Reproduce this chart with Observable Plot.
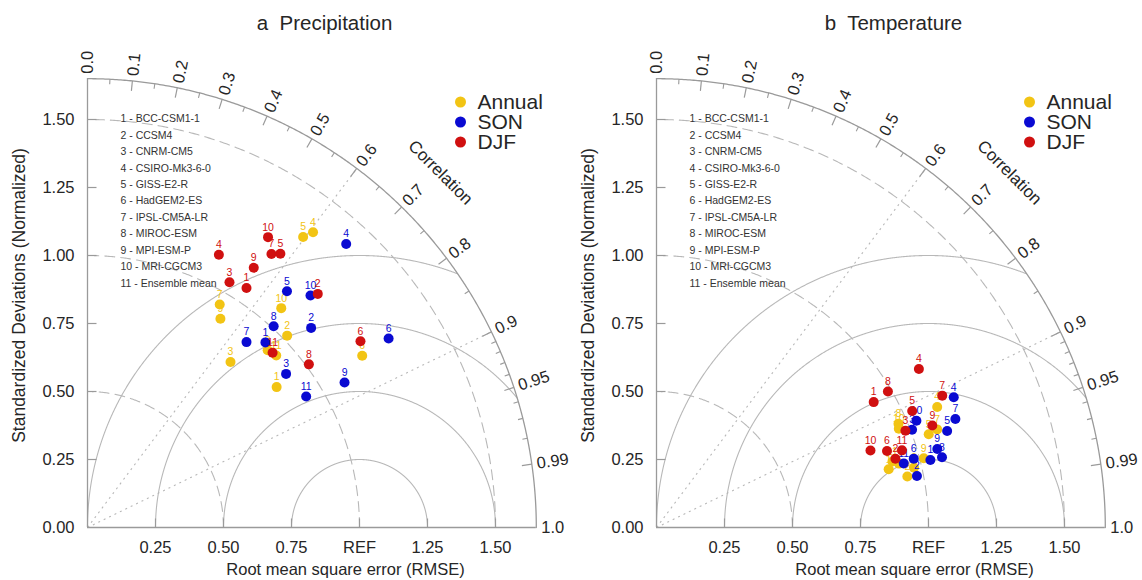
<!DOCTYPE html>
<html><head><meta charset="utf-8">
<script src="https://cdn.jsdelivr.net/npm/d3@7"></script>
<script src="https://cdn.jsdelivr.net/npm/@observablehq/plot@0.6"></script>
<style>
body{margin:0;background:#fff;}
#wrap{display:flex;width:1142px;height:580px;overflow:hidden;}
#wrap svg{overflow:visible;display:block;}
</style></head><body><div id="wrap"></div>
<script>
// ---------- labels ----------
const models = ["BCC-CSM1-1","CCSM4","CNRM-CM5","CSIRO-Mk3-6-0","GISS-E2-R","HadGEM2-ES","IPSL-CM5A-LR","MIROC-ESM","MPI-ESM-P","MRI-CGCM3","Ensemble mean"];
const seasons = ["Annual","SON","DJF"];
const seasonColors = ["#f2c414","#0a0ad2","#d01010"];
const corrTicks = [0,0.1,0.2,0.3,0.4,0.5,0.6,0.7,0.8,0.9,0.95,0.99,1.0];
const corrTickLabels = ["0.0","0.1","0.2","0.3","0.4","0.5","0.6","0.7","0.8","0.9","0.95","0.99","1.0"];
const corrMinorTicks = [0.05,0.15,0.25,0.35,0.45,0.55,0.65,0.75,0.85,0.91,0.92,0.93,0.94,0.96,0.97,0.98];
const stdTicks = [0,0.25,0.5,0.75,1.0,1.25,1.5];
const stdTickLabels = ["0.00","0.25","0.50","0.75","1.00","1.25","1.50"];
const rmseTicks = [0.25,0.5,0.75,1.0,1.25,1.5];
const rmseTickLabels = ["0.25","0.50","0.75","REF","1.25","1.50"];
const rmseCircles = [0.25,0.5,0.75,1.0];
const stdCircles = [0.5,1.0,1.5];
const corrGuides = [0.6,0.9];

// ---------- a Precipitation (normalized std, correlation), models 1..11 ----------
const prAnnualStd  = [0.866,1.018,0.804,1.366,1.330,1.191,0.953,0.929,0.910,1.076,0.939];
const prAnnualCorr = [0.803,0.721,0.654,0.607,0.596,0.848,0.510,0.713,0.537,0.662,0.739];
const prSonStd     = [0.944,1.102,0.923,1.411,1.137,1.307,0.898,1.008,1.085,1.183,0.937];
const prSonCorr    = [0.693,0.746,0.791,0.674,0.645,0.847,0.651,0.679,0.871,0.693,0.858];
const prDjfStd     = [1.057,1.206,1.042,1.113,1.231,1.215,1.212,1.011,1.134,1.257,0.936];
const prDjfCorr    = [0.553,0.702,0.501,0.434,0.576,0.826,0.558,0.805,0.539,0.528,0.727];

// ---------- b Temperature ----------
const taAnnualStd  = [0.880,0.941,0.922,1.123,1.058,0.972,1.093,0.968,1.015,0.962,0.901];
const taAnnualCorr = [0.970,0.980,0.967,0.919,0.946,0.974,0.944,0.919,0.968,0.926,0.963];
const taSonStd     = [1.037,0.976,1.006,1.193,1.126,0.979,1.169,1.081,1.072,1.033,0.939];
const taSonCorr    = [0.971,0.981,0.934,0.916,0.949,0.966,0.940,0.971,0.963,0.925,0.968];
const taDjfStd     = [0.922,0.914,0.982,1.127,1.033,0.893,1.157,0.987,1.081,0.836,0.946];
const taDjfCorr    = [0.866,0.961,0.932,0.856,0.910,0.949,0.908,0.862,0.938,0.941,0.954];

// ---------- layout ----------
const U = 272, OX = 87, OY = 527, R = 1.65;
const ux = px => px / U;            // pixel offset from origin -> std units
const uy = py => (OY - py) / U;     // absolute pixel row -> std units
const FONT = "'Liberation Sans', Arial, Helvetica, sans-serif";
const GRID = "#b8b8b8", AXIS = "#9a9a9a", TXT = "#262626";

function polar(r, c) { return {x: r * c, y: r * Math.sqrt(Math.max(0, 1 - c * c))}; }

function panel(title, width, series) {
  const rows = [];
  series.forEach((s, si) => s.std.forEach((v, i) => {
    const p = polar(v, s.corr[i]);
    rows.push({season: seasons[si], id: i + 1, x: p.x, y: p.y});
  }));

  const rmseArcs = [];
  for (const r of rmseCircles) for (let k = 0; k <= 1440; k++) {
    const f = Math.PI * k / 1440, x = 1 + r * Math.cos(f), y = r * Math.sin(f);
    if (x * x + y * y <= R * R + 1e-9) rmseArcs.push({r, x, y});
  }
  const stdArcs = [];
  for (const r of stdCircles) for (let k = 0; k <= 360; k++) {
    const t = Math.PI / 2 * k / 360; stdArcs.push({r, x: r * Math.cos(t), y: r * Math.sin(t)});
  }
  const outer = d3.range(0, 361).map(k => { const t = Math.PI / 2 * k / 360; return {x: R * Math.cos(t), y: R * Math.sin(t)}; });

  const lab = R + 5 / U;
  const majorLen = 10 / U, minorLen = 5 / U;
  const corrMajor = corrTicks.filter(c => c > 0 && c < 1);

  const marks = [
    Plot.line(rmseArcs, {x: "x", y: "y", z: "r", stroke: GRID, strokeWidth: 1.1}),
    Plot.line(stdArcs, {x: "x", y: "y", z: "r", stroke: GRID, strokeWidth: 1.1, strokeDasharray: "10,6"}),
    Plot.link(corrGuides, {x1: 0, y1: 0, x2: c => polar(R, c).x, y2: c => polar(R, c).y, stroke: GRID, strokeWidth: 1.1, strokeDasharray: "2,4"}),
    Plot.line(outer, {x: "x", y: "y", stroke: AXIS, strokeWidth: 1.3}),
    Plot.ruleX([0], {y1: 0, y2: R, stroke: AXIS, strokeWidth: 1.3}),
    Plot.ruleY([0], {x1: 0, x2: R, stroke: AXIS, strokeWidth: 1.3}),
    Plot.link(stdTicks.slice(1), {x1: 0, x2: 9 / U, y1: d => d, y2: d => d, stroke: AXIS, strokeWidth: 1.2}),
    Plot.link(rmseTicks, {x1: d => d, x2: d => d, y1: 0, y2: 9 / U, stroke: AXIS, strokeWidth: 1.2}),
    Plot.link(corrMajor, {x1: c => polar(R, c).x, y1: c => polar(R, c).y, x2: c => polar(R - majorLen, c).x, y2: c => polar(R - majorLen, c).y, stroke: AXIS, strokeWidth: 1.2}),
    Plot.link(corrMinorTicks, {x1: c => polar(R, c).x, y1: c => polar(R, c).y, x2: c => polar(R - minorLen, c).x, y2: c => polar(R - minorLen, c).y, stroke: AXIS, strokeWidth: 1.1}),
    // correlation labels
    Plot.text(corrTicks, {x: c => polar(lab, c).x, y: c => polar(lab, c).y, text: (c, i) => corrTickLabels[i],
      rotate: c => -Math.acos(c) * 180 / Math.PI, textAnchor: "start", lineAnchor: "middle", fontSize: 16.5, fill: TXT}),
    Plot.text(["Correlation"], {x: ux(353), y: uy(172), rotate: 45, textAnchor: "middle", fontSize: 17, fill: TXT}),
    // y axis labels
    Plot.text(stdTicks, {x: ux(-13), y: d => d, text: (d, i) => stdTickLabels[i], textAnchor: "end", fontSize: 16.5, fill: TXT}),
    Plot.text(["Standardized Deviations (Normalized)"], {x: ux(-68), y: uy(295), rotate: -90, textAnchor: "middle", fontSize: 17.5, fill: TXT}),
    // x axis labels
    Plot.text(rmseTicks, {x: d => d, y: uy(547), text: (d, i) => rmseTickLabels[i], textAnchor: "middle", fontSize: 16.5, fill: TXT}),
    Plot.text(["Root mean square error (RMSE)"], {x: ux(258), y: uy(569), textAnchor: "middle", fontSize: 16.5, fill: TXT}),
    // title
    Plot.text([title], {x: ux(237), y: uy(23), textAnchor: "middle", fontSize: 20.5, fill: TXT}),
    // model list
    Plot.text(models, {x: ux(33), y: (d, i) => uy(118.3 + 16.45 * i), text: (d, i) => `${i + 1} - ${d}`, textAnchor: "start", fontSize: 10.5, fill: "#333"}),
    // legend
    Plot.dot(seasons, {x: ux(373), y: (d, i) => uy(101.5 + 20 * i), r: 5.5, fill: d => d}),
    Plot.text(seasons, {x: ux(390), y: (d, i) => uy(101.5 + 20 * i), text: d => d, textAnchor: "start", fontSize: 21, fill: TXT})
  ];
  for (const s of seasons) {
    const sub = rows.filter(d => d.season === s);
    marks.push(Plot.dot(sub, {x: "x", y: "y", r: 5, fill: "season"}));
    marks.push(Plot.text(sub, {x: "x", y: "y", text: d => String(d.id), fill: "season", dy: -10, fontSize: 10.5}));
  }

  return Plot.plot({
    width, height: 580, margin: 0,
    style: {fontFamily: FONT, background: "#fff", overflow: "visible"},
    x: {type: "linear", domain: [0, R], range: [OX, OX + R * U], axis: null},
    y: {type: "linear", domain: [0, R], range: [OY, OY - R * U], axis: null},
    color: {domain: seasons, range: seasonColors},
    marks
  });
}

const wrap = document.getElementById("wrap");
wrap.append(panel("a  Precipitation", 569, [
  {std: prAnnualStd, corr: prAnnualCorr}, {std: prSonStd, corr: prSonCorr}, {std: prDjfStd, corr: prDjfCorr}]));
wrap.append(panel("b  Temperature", 573, [
  {std: taAnnualStd, corr: taAnnualCorr}, {std: taSonStd, corr: taSonCorr}, {std: taDjfStd, corr: taDjfCorr}]));
</script>
</body></html>
